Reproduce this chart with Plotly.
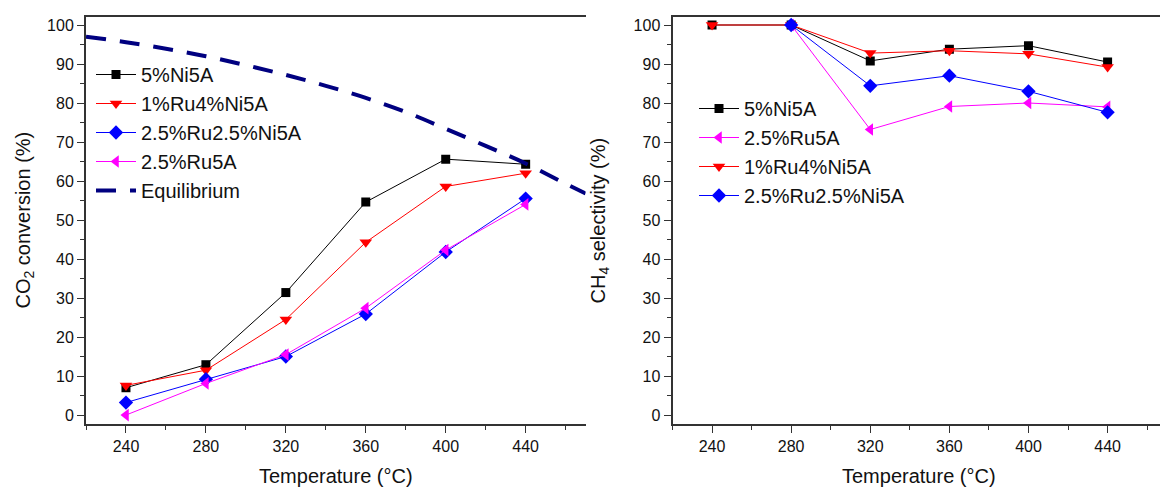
import plotly.graph_objects as go

temps = [240, 280, 320, 360, 400, 440]

# CO2 conversion (%)
conv_ni = [7.0, 12.9, 31.4, 54.6, 65.6, 64.3]
conv_ru4ni = [7.6, 11.5, 24.5, 44.3, 58.6, 62.0]
conv_ru25ni25 = [3.2, 9.2, 15.0, 25.9, 41.8, 55.5]
conv_ru25 = [0.0, 8.1, 15.5, 27.4, 42.3, 54.0]

eq_temps = [220, 240, 260, 280, 300, 320, 340, 360, 380, 400, 420, 440, 460, 470]
eq_conv = [97.0, 95.6, 93.9, 92.0, 89.7, 87.2, 84.4, 81.3, 77.7, 73.4, 69.0, 64.5, 59.3, 56.8]

# CH4 selectivity (%)
sel_temps_ni = [240, 280, 320, 360, 400, 440]
sel_ni = [100.0, 100.0, 90.8, 93.8, 94.7, 90.5]
sel_temps_ru25 = [280, 320, 360, 400, 440]
sel_ru25 = [100.0, 73.2, 79.1, 80.0, 79.0]
sel_temps_ru4ni = [240, 280, 320, 360, 400, 440]
sel_ru4ni = [100.0, 100.0, 92.8, 93.4, 92.6, 89.2]
sel_temps_ru25ni25 = [280, 320, 360, 400, 440]
sel_ru25ni25 = [100.0, 84.4, 87.0, 83.0, 77.6]

x_ticks = [240, 280, 320, 360, 400, 440]
y_ticks = [0, 10, 20, 30, 40, 50, 60, 70, 80, 90, 100]

FONT = "Liberation Sans, Arial, sans-serif"
BLACK = "#000000"
RED = "#ff0000"
BLUE = "#0000ff"
MAG = "#ff00ff"
NAVY = "#000080"
AX = "#333333"

fig = go.Figure()

def series(x, y, name, color, symbol, size, xa, ya, legend, group):
    fig.add_trace(go.Scatter(
        x=x, y=y, name=name, mode="lines+markers",
        line=dict(color=color, width=1),
        marker=dict(color=color, symbol=symbol, size=size, line=dict(width=0)),
        xaxis=xa, yaxis=ya, legend=legend, legendgroup=group,
    ))

# left panel
series(temps, conv_ni, "5%Ni5A", BLACK, "square", 9, "x", "y", "legend", "a1")
series(temps, conv_ru4ni, "1%Ru4%Ni5A", RED, "triangle-down", 11, "x", "y", "legend", "a2")
series(temps, conv_ru25ni25, "2.5%Ru2.5%Ni5A", BLUE, "diamond", 11, "x", "y", "legend", "a3")
series(temps, conv_ru25, "2.5%Ru5A", MAG, "triangle-left", 11, "x", "y", "legend", "a4")
fig.add_trace(go.Scatter(
    x=eq_temps, y=eq_conv, name="Equilibrium", mode="lines",
    line=dict(color=NAVY, width=4, dash="20px,14px", shape="spline"),
    xaxis="x", yaxis="y", legend="legend", legendgroup="a5",
))

# right panel
series(sel_temps_ni, sel_ni, "5%Ni5A", BLACK, "square", 9, "x2", "y2", "legend2", "b1")
series(sel_temps_ru25, sel_ru25, "2.5%Ru5A", MAG, "triangle-left", 11, "x2", "y2", "legend2", "b2")
series(sel_temps_ru4ni, sel_ru4ni, "1%Ru4%Ni5A", RED, "triangle-down", 11, "x2", "y2", "legend2", "b3")
series(sel_temps_ru25ni25, sel_ru25ni25, "2.5%Ru2.5%Ni5A", BLUE, "diamond", 11, "x2", "y2", "legend2", "b4")

YR = [-2.3, 102.05]
YDOM = [1 - 424 / 488, 1 - 17 / 488]

xcommon = dict(
    tickmode="array", tickvals=x_ticks, ticks="outside", ticklen=7, tickwidth=1.3,
    tickcolor=AX, showline=True, linecolor=AX, linewidth=2, mirror=True,
    showgrid=False, zeroline=False, tickfont=dict(family=FONT, size=16, color="#111"),
    minor=dict(tickvals=[220, 260, 300, 340, 380, 420, 460], ticks="outside",
               ticklen=4, tickcolor=AX, tickwidth=1.3),
)
ycommon = dict(
    range=YR, tickmode="array", tickvals=y_ticks, ticks="outside", ticklen=7,
    tickwidth=1.3, tickcolor=AX, showline=True, linecolor=AX, linewidth=2,
    showgrid=False, zeroline=False, tickfont=dict(family=FONT, size=16, color="#111"),
    minor=dict(dtick=5, tick0=0, ticks="outside", ticklen=4, tickcolor=AX, tickwidth=1.3),
)

fig.update_layout(
    width=1160, height=488,
    margin=dict(l=0, r=0, t=0, b=0),
    paper_bgcolor="white", plot_bgcolor="white",
    font=dict(family=FONT, color="#111"),
    xaxis=dict(domain=[86 / 1160, 585.6 / 1160], range=[220, 470], anchor="y", **xcommon),
    yaxis=dict(domain=YDOM, anchor="x", mirror=False, **ycommon),
    yaxis3=dict(domain=YDOM, range=YR, overlaying="y", side="right", anchor="x",
                tickmode="array", tickvals=y_ticks, ticks="inside", ticklen=7,
                tickwidth=1.3, tickcolor=AX, showline=True, linecolor=AX, linewidth=2,
                showticklabels=False, showgrid=False, zeroline=False,
                minor=dict(dtick=5, tick0=0, ticks="inside", ticklen=4, tickcolor=AX, tickwidth=1.3)),
    xaxis2=dict(domain=[672.5 / 1160, 1.0], range=[220, 466.5], anchor="y2", **xcommon),
    yaxis2=dict(domain=YDOM, anchor="x2", mirror=False, **ycommon),
    legend=dict(x=91 / 1160, y=1 - 55 / 488, xanchor="left", yanchor="top",
                bgcolor="rgba(0,0,0,0)", borderwidth=0,
                font=dict(family=FONT, size=20, color="#111"),
                traceorder="grouped", tracegroupgap=0, itemwidth=40),
    legend2=dict(x=694 / 1160, y=1 - 89 / 488, xanchor="left", yanchor="top",
                 bgcolor="rgba(0,0,0,0)", borderwidth=0,
                 font=dict(family=FONT, size=20, color="#111"),
                 traceorder="grouped", tracegroupgap=0, itemwidth=40),
    showlegend=True,
    annotations=[
        dict(text="CO<sub>2</sub> conversion (%)", x=24 / 1160, y=1 - 220.5 / 488,
             xref="paper", yref="paper", textangle=-90, showarrow=False,
             font=dict(family=FONT, size=20, color="#111"), xanchor="center", yanchor="middle"),
        dict(text="CH<sub>4</sub> selectivity (%)", x=599 / 1160, y=1 - 220.5 / 488,
             xref="paper", yref="paper", textangle=-90, showarrow=False,
             font=dict(family=FONT, size=20, color="#111"), xanchor="center", yanchor="middle"),
        dict(text="Temperature (°C)", x=336 / 1160, y=1 - 476 / 488,
             xref="paper", yref="paper", showarrow=False,
             font=dict(family=FONT, size=20, color="#111"), xanchor="center", yanchor="middle"),
        dict(text="Temperature (°C)", x=919 / 1160, y=1 - 476 / 488,
             xref="paper", yref="paper", showarrow=False,
             font=dict(family=FONT, size=20, color="#111"), xanchor="center", yanchor="middle"),
    ],
)

fig.write_html("out.html")
